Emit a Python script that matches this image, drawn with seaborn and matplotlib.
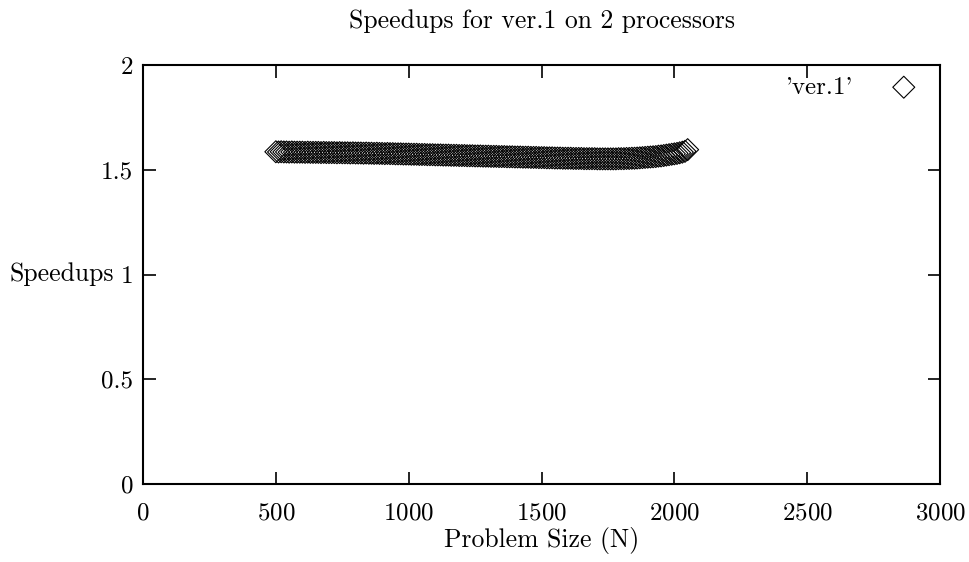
import numpy as np
import pandas as pd
import matplotlib
matplotlib.use("Agg")
import matplotlib.pyplot as plt
import seaborn as sns

sns.set_style("ticks")
plt.rcParams['font.family'] = ['cmr10', 'DejaVu Serif']
plt.rcParams['axes.formatter.use_mathtext'] = True
plt.rcParams['font.size'] = 18
plt.rcParams['text.color'] = 'black'
plt.rcParams['axes.labelcolor'] = 'black'
plt.rcParams['xtick.color'] = 'black'
plt.rcParams['ytick.color'] = 'black'
plt.rcParams['axes.edgecolor'] = 'black'

# problem sizes N = 500, 510, ..., 2050
sizes = list(range(500, 2051, 10))
speedups = [
    1.586, 1.585, 1.586, 1.585, 1.585, 1.584, 1.585, 1.584, 1.584, 1.584,
    1.584, 1.583, 1.584, 1.583, 1.583, 1.583, 1.583, 1.582, 1.583, 1.582,
    1.582, 1.582, 1.582, 1.581, 1.582, 1.581, 1.581, 1.581, 1.580, 1.581,
    1.580, 1.580, 1.580, 1.579, 1.580, 1.579, 1.579, 1.578, 1.579, 1.578,
    1.578, 1.577, 1.578, 1.577, 1.577, 1.576, 1.576, 1.576, 1.575, 1.575,
    1.575, 1.574, 1.574, 1.574, 1.573, 1.573, 1.573, 1.572, 1.572, 1.572,
    1.571, 1.571, 1.571, 1.570, 1.570, 1.570, 1.569, 1.569, 1.569, 1.568,
    1.568, 1.568, 1.567, 1.567, 1.567, 1.566, 1.566, 1.566, 1.565, 1.565,
    1.565, 1.564, 1.564, 1.564, 1.563, 1.563, 1.563, 1.562, 1.562, 1.562,
    1.561, 1.561, 1.561, 1.560, 1.560, 1.560, 1.559, 1.559, 1.559, 1.558,
    1.558, 1.558, 1.557, 1.557, 1.557, 1.556, 1.556, 1.556, 1.555, 1.555,
    1.555, 1.555, 1.554, 1.554, 1.554, 1.554, 1.553, 1.553, 1.553, 1.553,
    1.553, 1.552, 1.552, 1.552, 1.552, 1.552, 1.552, 1.552, 1.552, 1.553,
    1.553, 1.553, 1.554, 1.554, 1.555, 1.555, 1.556, 1.557, 1.558, 1.559,
    1.560, 1.561, 1.562, 1.563, 1.565, 1.566, 1.568, 1.570, 1.572, 1.574,
    1.576, 1.578, 1.581, 1.584, 1.588, 1.596,
]
x_ticks = [0, 500, 1000, 1500, 2000, 2500, 3000]
y_ticks = [0, 0.5, 1, 1.5, 2]
y_ticklabels = ["0", "0.5", "1", "1.5", "2"]

df = pd.DataFrame({"N": sizes, "Speedup": speedups})

fig = plt.figure(figsize=(9.69, 5.62), dpi=100)
ax = fig.add_axes([0.1476, 0.1388, 0.8225, 0.7455])

sns.scatterplot(data=df, x="N", y="Speedup", ax=ax, marker="D", s=125,
                facecolor="none", edgecolor="black", linewidth=0.8,
                label="'ver.1'")

ax.set_xlim(0, 3000)
ax.set_ylim(0, 2)
ax.set_xticks(x_ticks)
ax.set_yticks(y_ticks)
ax.set_yticklabels(y_ticklabels)
ax.tick_params(direction="in", length=9, width=1.2, top=True, right=True,
               labelsize=18, pad=7)
ax.tick_params(axis="x", pad=13)
for sp in ax.spines.values():
    sp.set_linewidth(1.5)

ax.set_title("Speedups for ver.1 on 2 processors", fontsize=18.5, pad=27)
ax.set_xlabel("Problem Size (N)", fontsize=18.5, labelpad=2)
ax.set_ylabel("Speedups", fontsize=18.5, rotation=0, ha="left", va="center")
ax.yaxis.set_label_coords(-0.167, 0.5)

ax.legend(loc="upper right", frameon=False, markerfirst=False, fontsize=18,
          handletextpad=1.0, borderaxespad=0.05, borderpad=0.4)

fig.savefig("out.png", dpi=100)
